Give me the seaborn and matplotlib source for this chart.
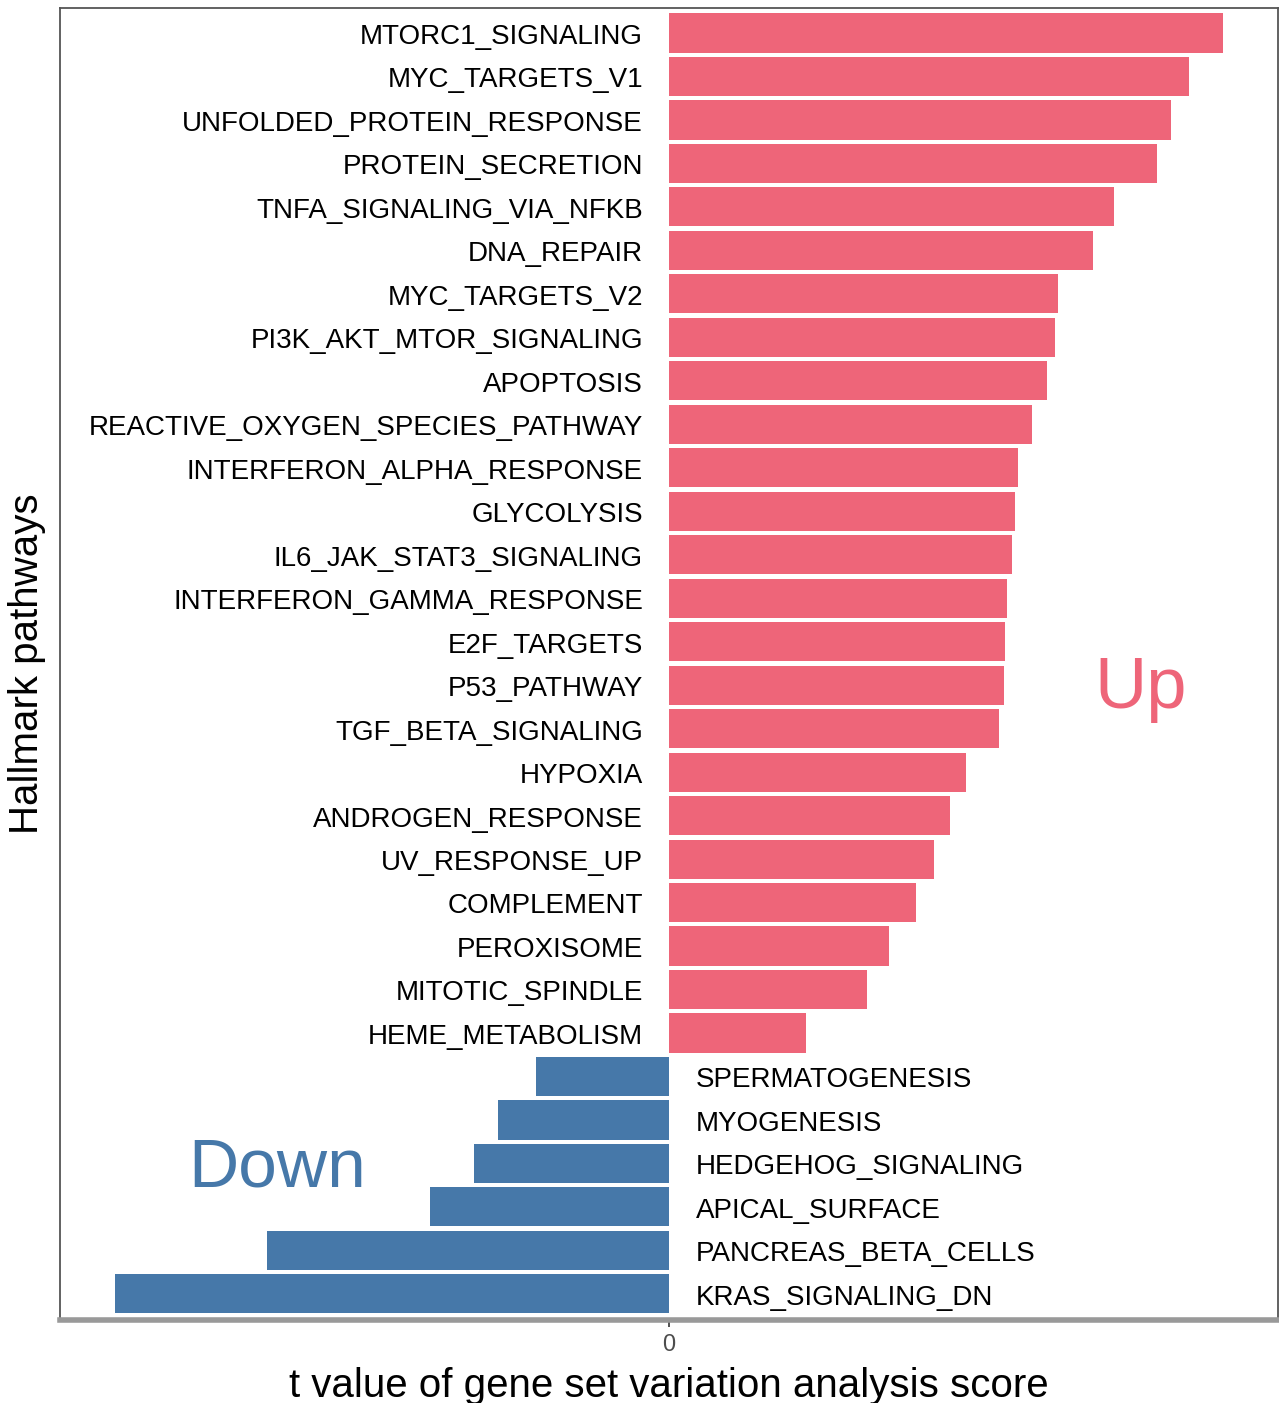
import matplotlib
matplotlib.use("Agg")
import matplotlib.pyplot as plt
import seaborn as sns
import pandas as pd

# pathways, top to bottom
pathways = [
    "MTORC1_SIGNALING", "MYC_TARGETS_V1", "UNFOLDED_PROTEIN_RESPONSE",
    "PROTEIN_SECRETION", "TNFA_SIGNALING_VIA_NFKB", "DNA_REPAIR",
    "MYC_TARGETS_V2", "PI3K_AKT_MTOR_SIGNALING", "APOPTOSIS",
    "REACTIVE_OXYGEN_SPECIES_PATHWAY", "INTERFERON_ALPHA_RESPONSE",
    "GLYCOLYSIS", "IL6_JAK_STAT3_SIGNALING", "INTERFERON_GAMMA_RESPONSE",
    "E2F_TARGETS", "P53_PATHWAY", "TGF_BETA_SIGNALING", "HYPOXIA",
    "ANDROGEN_RESPONSE", "UV_RESPONSE_UP", "COMPLEMENT", "PEROXISOME",
    "MITOTIC_SPINDLE", "HEME_METABOLISM", "SPERMATOGENESIS", "MYOGENESIS",
    "HEDGEHOG_SIGNALING", "APICAL_SURFACE", "PANCREAS_BETA_CELLS",
    "KRAS_SIGNALING_DN",
]
t_values = [
    27.7, 26.0, 25.1, 24.4, 22.25, 21.2, 19.45, 19.3, 18.9, 18.15,
    17.45, 17.3, 17.15, 16.9, 16.8, 16.75, 16.5, 14.85, 14.05, 13.25,
    12.35, 11.0, 9.9, 6.85, -6.65, -8.55, -9.75, -11.95, -20.1, -27.7,
]

df = pd.DataFrame({"pathway": pathways, "t": t_values})
df["dir"] = ["Up" if v > 0 else "Down" for v in df["t"]]

up_col = "#EE6579"
down_col = "#4678A9"
font = "Liberation Sans"

fig = plt.figure(figsize=(12.79, 14.03), dpi=100)
ax = fig.add_axes([0.0469, 0.0592, 0.9523, 0.9351])

sns.barplot(data=df, x="t", y="pathway", hue="dir", orient="h",
            palette={"Up": up_col, "Down": down_col}, width=0.9,
            dodge=False, legend=False, ax=ax, saturation=1)

# pathway names next to the zero line
for i, (name, v) in enumerate(zip(pathways, t_values)):
    if v > 0:
        ax.text(-1.3, i + 0.09, name, ha="right", va="center", fontsize=20,
                family=font, color="black")
    else:
        ax.text(1.35, i + 0.09, name, ha="left", va="center", fontsize=20,
                family=font, color="black")

ax.text(21.25, 15.1, "Up", color=up_col, fontsize=52, ha="left", va="center",
        family=font)
ax.text(-24.05, 26.12, "Down", color=down_col, fontsize=50, ha="left",
        va="center", family=font)

ax.set_xlim(-30.45, 30.45)
ax.set_ylim(29.6, -0.575)
ax.set_yticks([])
ax.set_xticks([0])
ax.set_xticklabels(["0"], fontsize=17, color="#4d4d4d", family=font)
ax.tick_params(axis="x", length=5, width=1.2, color="#333333", pad=5)
ax.set_xlabel("t value of gene set variation analysis score", fontsize=29,
              family=font, labelpad=8)
ax.set_ylabel("Hallmark pathways", fontsize=29, family=font, labelpad=10)

for side in ["left", "top", "right"]:
    ax.spines[side].set_color("#555555")
    ax.spines[side].set_linewidth(1.3)
ax.spines["bottom"].set_color("#999999")
ax.spines["bottom"].set_linewidth(4)

fig.savefig("out.png", dpi=100)
